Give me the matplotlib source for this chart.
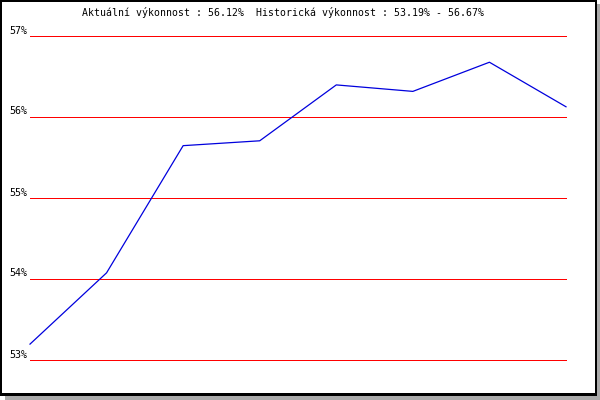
import matplotlib
matplotlib.use('Agg')
import matplotlib.pyplot as plt
from matplotlib.patches import Rectangle
from matplotlib.transforms import blended_transform_factory

# data
values = [53.19, 54.07, 55.64, 55.70, 56.39, 56.31, 56.67, 56.12]
grid_levels = [53, 54, 55, 56, 57]
grid_labels = ['53%', '54%', '55%', '56%', '57%']
title = 'Aktuální výkonnost : 56.12%  Historická výkonnost : 53.19% - 56.67%'

W, H = 600, 400
fig = plt.figure(figsize=(W / 100, H / 100), dpi=100)
fig.patch.set_facecolor('white')

# frame with shadow (pixel boxes, top-down coordinates)
def px_rect(x0, y0, x1, y1, color, z):
    r = Rectangle((x0 / W, 1 - y1 / H), (x1 - x0) / W, (y1 - y0) / H,
                  transform=fig.transFigure, facecolor=color,
                  edgecolor='none', zorder=z)
    fig.patches.append(r)

px_rect(5, 4, 600, 400, '#aaaaaa', -3)
px_rect(0, 0, 597, 396, 'black', -2)
px_rect(2, 2, 595, 393, 'white', -1)

# plot area: x 30..566, 57% at y=35, 53% at y=359
ax = fig.add_axes([30 / W, 1 - 359.5 / H, 536 / W, 324 / H])
ax.set_facecolor('none')
ax.set_xlim(0, len(values) - 1)
ax.set_ylim(53, 57)
ax.axis('off')

for lv in grid_levels:
    ax.axhline(lv, color='#ff0000', lw=0.72, antialiased=False, zorder=1,
               clip_on=False)

ax.plot(range(len(values)), values, color='#0000dd', lw=0.9, zorder=2,
        clip_on=False)

trans = blended_transform_factory(fig.transFigure, ax.transData)
for lv, lab in zip(grid_levels, grid_labels):
    ax.text(27 / W, lv, lab, transform=trans, ha='right', va='bottom',
            fontsize=7.2, family='DejaVu Sans Mono', color='black')

fig.text(283 / W, 1 - 13 / H, title, ha='center', va='center',
         fontsize=7.1, family='DejaVu Sans Mono', color='black')

fig.savefig('out.png', dpi=100)
